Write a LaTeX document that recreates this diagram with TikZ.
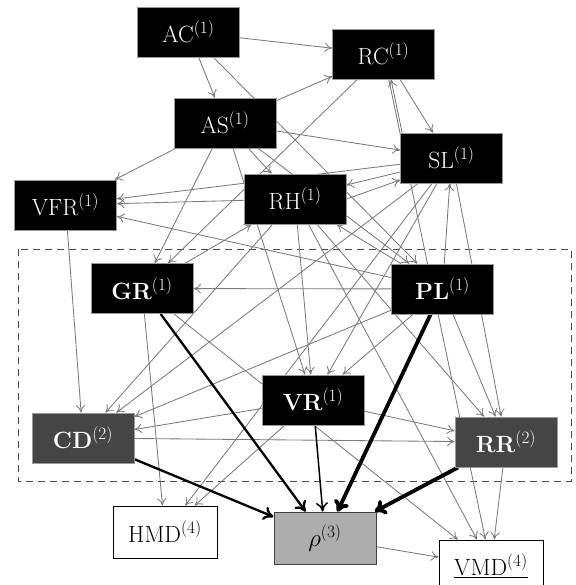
\documentclass[tikz,border=0pt]{standalone}
\usetikzlibrary{arrows.meta}
\pgfdeclarelayer{bg}
\pgfsetlayers{bg,main}
\begin{document}
\begin{tikzpicture}[x=1pt,y=-1pt,
  box/.style={rectangle,minimum width=102pt,minimum height=50pt,inner sep=0pt,font=\fontsize{23.5}{27}\selectfont},
  blk/.style={box,fill=black,draw=black!40,line width=0.8pt,text=white},
  dk/.style={box,fill=black!73,draw=black!40,line width=0.8pt,text=white},
  wht/.style={box,minimum width=104pt,minimum height=52pt,fill=white,draw=black,line width=0.9pt,text=black},
  rhobox/.style={box,minimum width=102pt,minimum height=52pt,fill=black!32,draw=black!75,line width=0.9pt,text=black},
  e/.style={draw=black!52,line width=0.85pt,-{To[length=7.5pt,width=9.5pt]}},
  ta/.style={draw=black,line width=1.5pt,-{To[length=9pt,width=12pt]}},
  tb/.style={draw=black,line width=2.3pt,-{To[length=10pt,width=14pt]}},
  tc/.style={draw=black,line width=3.8pt,-{To[length=11pt,width=16pt]}},
  groupbox/.style={draw=black!70,line width=0.9pt,dash pattern=on 7pt off 5pt}
]
\useasboundingbox (0,0) rectangle (575,585);
\clip (0,0) rectangle (575,585);

\node[blk] (AC) at (188.5,32) {AC$^{(1)}$};
\node[blk] (RC) at (383.5,54) {RC$^{(1)}$};
\node[blk] (AS) at (225,123) {AS$^{(1)}$};
\node[blk] (SL) at (451.5,158) {SL$^{(1)}$};
\node[blk] (VFR) at (65.5,205) {VFR$^{(1)}$};
\node[blk] (RH) at (295,199) {RH$^{(1)}$};
\node[blk] (GR) at (142,288.5) {\textbf{GR}$^{(1)}$};
\node[blk] (PL) at (442.5,289) {\textbf{PL}$^{(1)}$};
\node[blk] (VR) at (313,400) {\textbf{VR}$^{(1)}$};
\node[dk] (CD) at (83,438) {\textbf{CD}$^{(2)}$};
\node[dk] (RR) at (506,442) {\textbf{RR}$^{(2)}$};
\node[wht] (HMD) at (165,532) {HMD$^{(4)}$};
\node[rhobox] (RHO) at (325,538) {$\rho^{(3)}$};
\node[wht] (VMD) at (491,566) {\underline{VMD$^{(4)}$}};

\begin{pgfonlayer}{bg}
\draw[groupbox] (18,249) rectangle (571,481);
% gray edges
\draw[e] (AC) -- (RC);
\draw[e] (AC) -- (AS);
\draw[e] (AC) -- (PL);
\draw[e] (AS) -- (RC);
\draw[e] (AS) -- (SL);
\draw[e] (AS) -- (VFR);
\draw[e] (AS) -- (RH);
\draw[e] (AS) -- (GR);
\draw[e] (AS) -- (VR);
\draw[e] (AS) -- (PL);
\draw[e] ([xshift=16.5pt]RC.south) -- ([xshift=-18.5pt]SL.north);
\draw[e] ([xshift=2pt]SL.north west) -- ([xshift=7.5pt]RC.south);
\draw[e] (RC) -- (GR);
\draw[e] (RC) -- (VMD);
\draw[e] ([yshift=-14pt]SL.west) -- ([yshift=14pt]RH.east);
\draw[e] (RH.east) -- ([yshift=-22pt]SL.west);
\draw[e] (SL) -- (VFR);
\draw[e] (RH) -- (VFR);
\draw[e] (PL) -- (VFR);
\draw[e] (VFR) -- (CD);
\draw[e] (GR) -- (RH);
\draw[e] (PL) -- (RH);
\draw[e] (PL) -- (GR);
\draw[e] (PL) -- (SL);
\draw[e] (RH) -- (CD);
\draw[e] (SL) -- (CD);
\draw[e] (PL) -- (CD);
\draw[e] (VR) -- (CD);
\draw[e] (RH) -- (VR);
\draw[e] (SL) -- (VR);
\draw[e] (PL) -- (VR);
\draw[e] (VR) -- (RR);
\draw[e] (CD) -- (RR);
\draw[e] (RH) -- (RR);
\draw[e] (PL) -- (RR);
\draw[e] (SL) -- (RR);
\draw[e] (GR) -- (HMD);
\draw[e] (SL) -- (HMD);
\draw[e] (VR) -- (HMD);
\draw[e] (GR) -- (VMD);
\draw[e] (RH) -- (VMD);
\draw[e] (RR) -- (VMD);
\draw[e] (RHO) -- (VMD);
% thick edges
\draw[ta] (VR) -- (RHO);
\draw[tb] (GR) -- (RHO);
\draw[tb] (CD) -- (RHO);
\draw[tc] (PL) -- (RHO);
\draw[tc] (RR) -- (RHO);
\end{pgfonlayer}
\end{tikzpicture}
\end{document}
